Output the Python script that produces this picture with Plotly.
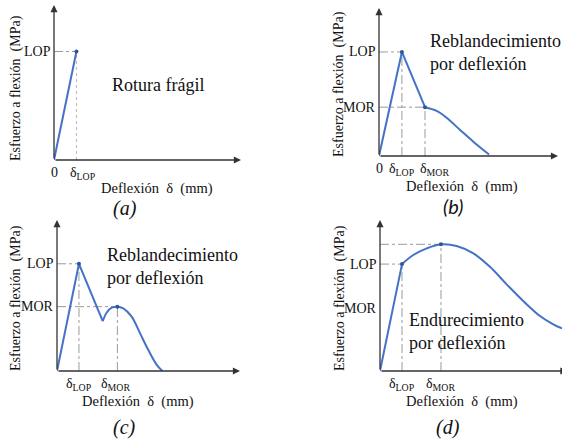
import plotly.graph_objects as go

W, H = 562, 439

# ---------- data (arbitrary units: deflection 0-10, stress 0-10) ----------
# (a) brittle failure
a_lin_x = [0, 1.2]
a_lin_y = [0, 7.0]
a_lop = (1.2, 7.0)

# (b) deflection softening
b_lin_x = [0, 1.28, 2.57]
b_lin_y = [0, 7.03, 3.3]
b_cur_x = [2.57, 3.22, 3.78, 4.53, 5.27, 6.15]
b_cur_y = [3.3, 3.05, 2.58, 1.76, 0.97, 0.1]
b_lop = (1.28, 7.03)
b_mor = (2.57, 3.3)

# (c) deflection softening (second peak)
c_lin_x = [0, 1.2, 2.5]
c_lin_y = [0, 7.1, 3.3]
c_cur_x = [2.5, 2.71, 2.99, 3.3, 3.62, 4.08, 4.54, 4.99, 5.45, 5.76]
c_cur_y = [3.3, 3.86, 4.19, 4.26, 4.15, 3.6, 2.49, 1.39, 0.4, 0.0]
c_lop = (1.2, 7.1)
c_mor = (3.3, 4.26)

# (d) deflection hardening
d_lin_x = [0, 1.21]
d_lin_y = [0, 7.08]
d_cur_x = [1.21, 1.83, 2.57, 3.35, 4.21, 5.13, 6.04, 6.96, 7.87, 8.79, 9.52, 10.0]
d_cur_y = [7.08, 7.68, 8.12, 8.39, 8.28, 7.79, 6.9, 5.74, 4.64, 3.64, 3.09, 2.82]
d_lop = (1.21, 7.08)
d_mor = (3.35, 8.39)
d_mor_label_y = 4.17

# ---------- texts ----------
ytitle = "Esfuerzo a flexión  (MPa)"
xtitle = "Deflexión  δ  (mm)"
lop_lbl = "δ<sub>LOP</sub>"
mor_lbl = "δ<sub>MOR</sub>"

BLUE = "#4472C4"
DOT = "#2F5597"
GUIDE = "#9a9a9a"
AX = "#333333"
TXT = "#111111"
SERIF = "Liberation Serif, Times New Roman, serif"

def px_x(p):
    return p / W

def px_y(p):
    return 1 - p / H

# panel geometry in pixels: (left, right, bottom, top)
panels = {
    "1": (54, 241, 160, 5),
    "2": (379, 558, 156, 8),
    "3": (57, 240, 371, 220),
    "4": (380, 562, 371, 220),
}

fig = go.Figure()
layout = dict(width=W, height=H, margin=dict(l=0, r=0, t=0, b=0),
              paper_bgcolor="white", plot_bgcolor="rgba(0,0,0,0)",
              showlegend=False, font=dict(family=SERIF, color=TXT))
for k, (l, r, b, t) in panels.items():
    sfx = "" if k == "1" else k
    layout["xaxis" + sfx] = dict(domain=[px_x(l), px_x(r)], range=[0, 10], visible=False,
                                 fixedrange=True, anchor="y" + sfx)
    layout["yaxis" + sfx] = dict(domain=[px_y(b), px_y(t)], range=[0, 10], visible=False,
                                 fixedrange=True, anchor="x" + sfx)
fig.update_layout(**layout)

def ax(k):
    return ("x", "y") if k == "1" else ("x" + k, "y" + k)

def line(k, xs, ys, spline=False):
    xa, ya = ax(k)
    fig.add_trace(go.Scatter(x=xs, y=ys, xaxis=xa, yaxis=ya, mode="lines",
                             line=dict(color=BLUE, width=2,
                                       shape="spline" if spline else "linear",
                                       smoothing=1.0),
                             hoverinfo="skip", cliponaxis=False))

def dots(k, pts):
    xa, ya = ax(k)
    fig.add_trace(go.Scatter(x=[p[0] for p in pts], y=[p[1] for p in pts],
                             xaxis=xa, yaxis=ya, mode="markers",
                             marker=dict(color=DOT, size=4), hoverinfo="skip",
                             cliponaxis=False))

def guide(k, pt, horiz=True, vert=True, vdash="dashdot", vcolor=GUIDE):
    xa, ya = ax(k)
    if horiz:
        fig.add_shape(type="line", xref=xa, yref=ya, x0=0, x1=pt[0], y0=pt[1], y1=pt[1],
                      line=dict(color=GUIDE, width=1, dash="dashdot"), layer="below")
    if vert:
        fig.add_shape(type="line", xref=xa, yref=ya, x0=pt[0], x1=pt[0], y0=0, y1=pt[1],
                      line=dict(color=vcolor, width=1, dash=vdash), layer="below")

def axes(k, xend=10):
    xa, ya = ax(k)
    fig.add_annotation(x=xend, y=0, ax=0, ay=0, xref=xa, yref=ya, axref=xa, ayref=ya,
                       showarrow=True, arrowhead=2, arrowsize=1.1, arrowwidth=1.3,
                       arrowcolor=AX, text="")
    fig.add_annotation(x=0, y=10, ax=0, ay=0, xref=xa, yref=ya, axref=xa, ayref=ya,
                       showarrow=True, arrowhead=2, arrowsize=1.1, arrowwidth=1.3,
                       arrowcolor=AX, text="")

def ylabel(k, text, yv):
    xa, ya = ax(k)
    fig.add_annotation(x=0, y=yv, xref=xa, yref=ya, text=text, showarrow=False,
                       xanchor="right", yanchor="middle", xshift=-1,
                       font=dict(family=SERIF, size=14, color=TXT))

def xlabel(k, text, xv, xshift=0):
    xa, ya = ax(k)
    fig.add_annotation(x=xv, y=0, xref=xa, yref=ya, text=text, showarrow=False,
                       xanchor="center", yanchor="top", yshift=-3, xshift=xshift,
                       font=dict(family=SERIF, size=14, color=TXT))

def ptext(xp, yp, text, size=14, family=SERIF, xanchor="center",
          align="center", angle=0):
    fig.add_annotation(x=px_x(xp), y=px_y(yp), xref="paper", yref="paper", text=text,
                       showarrow=False, xanchor=xanchor, yanchor="middle", align=align,
                       textangle=angle,
                       font=dict(family=family, size=size, color=TXT))

# ---------- panel (a) ----------
guide("1", a_lop, vdash="dot", vcolor="#b8b8b8")
line("1", a_lin_x, a_lin_y)
dots("1", [a_lop])
axes("1")
ylabel("1", "LOP", a_lop[1])
xlabel("1", "0", 0)
xlabel("1", lop_lbl, a_lop[0], xshift=7)
ptext(157, 188, xtitle, size=14.5)
ptext(16, 88, ytitle, angle=-90)
ptext(158, 85, "Rotura frágil", size=18)
ptext(125, 208, "<i>(a)</i>", size=20)

# ---------- panel (b) ----------
guide("2", b_lop)
guide("2", b_mor)
line("2", b_lin_x, b_lin_y)
line("2", b_cur_x, b_cur_y, spline=True)
dots("2", [b_lop, b_mor])
axes("2")
ylabel("2", "LOP", b_lop[1])
ylabel("2", "MOR", b_mor[1])
xlabel("2", "0", 0)
xlabel("2", lop_lbl, b_lop[0])
xlabel("2", mor_lbl, b_mor[0], xshift=9)
ptext(462, 186, xtitle, size=14.5)
ptext(339, 84, ytitle, angle=-90)
ptext(428, 53, "Reblandecimiento<br>por deflexión", size=18, xanchor="left", align="left")
ptext(453, 206, "<i>(b)</i>", size=20, family="Lato")

# ---------- panel (c) ----------
guide("3", c_lop)
guide("3", c_mor)
line("3", c_lin_x, c_lin_y)
line("3", c_cur_x, c_cur_y, spline=True)
dots("3", [c_lop, c_mor])
axes("3")
ylabel("3", "LOP", c_lop[1])
ylabel("3", "MOR", c_mor[1])
xlabel("3", lop_lbl, c_lop[0])
xlabel("3", mor_lbl, c_mor[0], xshift=-2)
ptext(138, 401, xtitle, size=14.5)
ptext(16, 298, ytitle, angle=-90)
ptext(105, 266, "Reblandecimiento<br>por deflexión", size=18, xanchor="left", align="left")
ptext(124, 427, "<i>(c)</i>", size=20)

# ---------- panel (d) ----------
guide("4", d_lop)
guide("4", d_mor)
line("4", d_lin_x, d_lin_y)
line("4", d_cur_x, d_cur_y, spline=True)
dots("4", [d_lop, d_mor])
axes("4", xend=10.3)
ylabel("4", "LOP", d_lop[1])
ylabel("4", "MOR", d_mor_label_y)
xlabel("4", lop_lbl, d_lop[0])
xlabel("4", mor_lbl, d_mor[0])
ptext(462, 401, xtitle, size=14.5)
ptext(340, 298, ytitle, angle=-90)
ptext(407, 331, "Endurecimiento<br>por deflexión", size=18, xanchor="left", align="left")
ptext(448, 427, "<i>(d)</i>", size=20)

fig.write_html("out.html", config={"displayModeBar": False},
               post_script="document.body.style.margin='0';document.body.style.overflow='hidden';")
